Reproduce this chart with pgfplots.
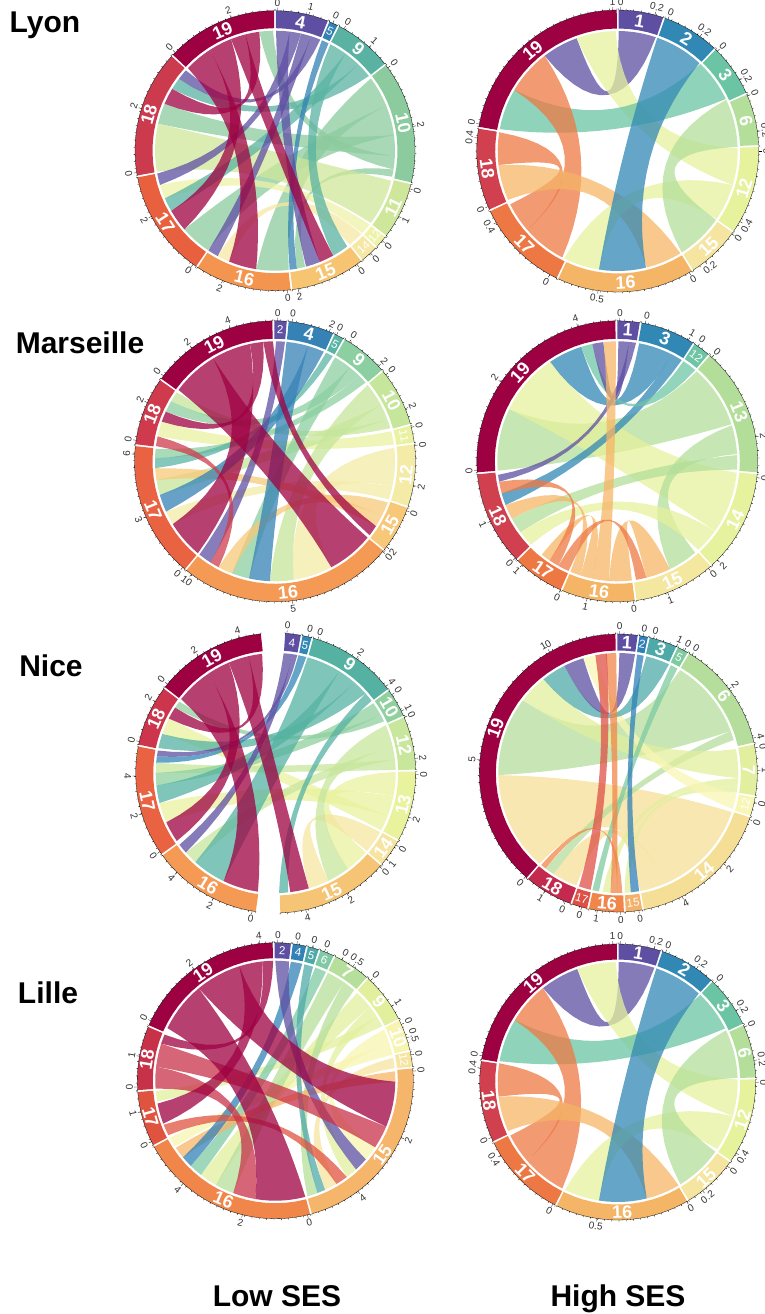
\documentclass[border=0pt]{standalone}
\usepackage{fontspec}
\setmainfont{Liberation Sans}
\usepackage{pgfplots}
\pgfplotsset{compat=1.18}
\newcount\ci \newcount\nn
\def\RC{120}\def\Ri{122.5}\def\Ro{140}
\def\appendarc#1#2#3#4{%
  \nn=\fpeval{max(1,ceil(abs((#3)-(#2))/#4))}\relax
  \ci=0
  \loop
    \edef\aT{\fpeval{(#2)+((#3)-(#2))*\the\ci/\the\nn}}%
    \xdef\pts{\pts(\fpeval{round((#1)*sind(\aT),2)},\fpeval{round((#1)*cosd(\aT),2)})}%
  \ifnum\ci<\nn\advance\ci by 1 \repeat}
\def\appendbez#1#2{%
  \edef\kK{\fpeval{.12*acosd(cosd((#1)-(#2)))/180}}%
  \ci=1
  \loop\ifnum\ci<14
    \edef\aT{\fpeval{\the\ci/14}}%
    \edef\wA{\fpeval{(1-\aT)^2+2*\aT*(1-\aT)*\kK}}%
    \edef\wB{\fpeval{\aT^2+2*\aT*(1-\aT)*\kK}}%
    \xdef\pts{\pts(\fpeval{round(\RC*(\wA*sind(#1)+\wB*sind(#2)),2)},\fpeval{round(\RC*(\wA*cosd(#1)+\wB*cosd(#2)),2)})}%
    \advance\ci by 1
  \repeat}
\newcommand\chord[5]{%
  \gdef\pts{}\appendarc{\RC}{#2}{#3}{4}\appendbez{#3}{#4}\appendarc{\RC}{#4}{#5}{4}\appendbez{#5}{#2}%
  \edef\tmp{\noexpand\addplot[fill=#1,fill opacity=.75,draw=none] coordinates {\pts};}\tmp}
\newcommand\sect[4]{%
  \gdef\pts{}\appendarc{\Ro}{#1+.4}{#2-.4}{5}\appendarc{\Ri}{#2-.4}{#1+.4}{5}%
  \edef\tmp{\noexpand\addplot[fill=#4,draw=none] coordinates {\pts};}\tmp
  \gdef\pts{}\edef\aA{\fpeval{#1+.3}}\edef\aB{\fpeval{#2-.3}}%
  \nn=\fpeval{max(1,round((\aB-\aA)/3))}\relax\ci=0
  \loop
    \edef\aT{\fpeval{\aA+(\aB-\aA)*\the\ci/\the\nn}}%
    \xdef\pts{\pts(\fpeval{round(\Ro*sind(\aT),2)},\fpeval{round(\Ro*cosd(\aT),2)})(\fpeval{round((\Ro+1.5)*sind(\aT),2)},\fpeval{round((\Ro+1.5)*cosd(\aT),2)})(\fpeval{round(\Ro*sind(\aT),2)},\fpeval{round(\Ro*cosd(\aT),2)})}%
  \ifnum\ci<\nn\advance\ci by 1 \repeat
  \edef\tmp{\noexpand\addplot[draw=black,line width=.3pt] coordinates {\pts};}\tmp
  \edef\aM{\fpeval{(#1+#2)/2}}%
  \edef\aR{\fpeval{\aM>90 && \aM<270 ? 180-\aM : -\aM}}%
  \edef\aS{\fpeval{(#2-#1)<9 ? 0 : 1}}%
  \edef\tmp{\noexpand\node[inner sep=0pt,text=white,rotate=\aR,\ifnum\aS=1 lbig\else lsmall\fi] at (axis cs:\fpeval{round((\Ro+\Ri)/2*sind(\aM),2)},\fpeval{round((\Ro+\Ri)/2*cosd(\aM),2)}) {#3};}\tmp}
\newcommand\tk[2]{%
  \edef\tmp{\noexpand\addplot[draw=black,line width=.3pt] coordinates {(\fpeval{round(\Ro*sind(#1),2)},\fpeval{round(\Ro*cosd(#1),2)})(\fpeval{round((\Ro+3)*sind(#1),2)},\fpeval{round((\Ro+3)*cosd(#1),2)})};}\tmp
  \edef\aR{\fpeval{#1>90 && #1<270 ? 180-#1 : -#1}}%
  \edef\tmp{\noexpand\node[inner sep=0pt,text=black!80,rotate=\aR,ltick] at (axis cs:\fpeval{round((\Ro+8)*sind(#1),2)},\fpeval{round((\Ro+8)*cosd(#1),2)}) {#2};}\tmp}
\tikzset{
  lbig/.style={font=\bfseries\fontsize{18}{18}\selectfont},
  lsmall/.style={font=\fontsize{11.5}{11.5}\selectfont},
  ltick/.style={font=\fontsize{10}{10}\selectfont},
  ttl/.style={font=\bfseries\fontsize{30}{30}\selectfont,inner sep=0pt}}
\pgfplotsset{panel/.style={hide axis,x=1pt,y=1pt,xmin=-160,xmax=160,ymin=-160,ymax=160,anchor=center,clip=false}}
\begin{document}
\begin{tikzpicture}
\useasboundingbox (0,0) rectangle (764pt,-1314pt);
\node[ttl] at (45pt,-25pt) {Lyon};
\node[ttl] at (80pt,-343pt) {Marseille};
\node[ttl] at (51pt,-666pt) {Nice};
\node[ttl] at (48pt,-993pt) {Lille};
\node[ttl] at (277pt,-1296pt) {Low SES};
\node[ttl] at (618pt,-1299pt) {High SES};
% ---------- Lyon low
\def\Ro{140}
\definecolor{s4}{HTML}{5E4FA2}\definecolor{s5}{HTML}{3380B3}\definecolor{s9}{HTML}{5AB3A2}\definecolor{s10}{HTML}{8CCB9E}\definecolor{s11}{HTML}{CFE79A}\definecolor{s12}{HTML}{EEF3A8}\definecolor{s14}{HTML}{F6E8A4}\definecolor{s15}{HTML}{F7C471}\definecolor{s16}{HTML}{F3954E}\definecolor{s17}{HTML}{E9603F}\definecolor{s18}{HTML}{CC3A4D}\definecolor{s19}{HTML}{9E0142}
\begin{axis}[panel,at={(275pt,-150.7pt)}]
\chord{s10}{53}{68}{173.5}{189}
\chord{s10}{68}{82.5}{214}{229}
\chord{s10}{82.5}{92.5}{283}{293}
\chord{s10}{92.5}{99}{352.5}{359}
\chord{s10}{99}{102.5}{165.5}{169.5}
\chord{s11}{104.5}{127}{260}{283}
\chord{s12}{128}{133.5}{246.6}{253.4}
\chord{s14}{134}{141.5}{202.5}{208.5}
\chord{s9}{27.5}{36}{143}{151}
\chord{s9}{36}{44}{239.8}{246.6}
\chord{s9}{44}{51.5}{301}{306.8}
\chord{s5}{23}{26.5}{169.5}{173}
\chord{s4}{0.5}{7}{158}{165}
\chord{s4}{7}{12.5}{253.4}{259}
\chord{s4}{12.5}{17.5}{208.5}{213.7}
\chord{s4}{17.5}{22.2}{306.8}{312}
\chord{s19}{313.5}{327}{189}{202.5}
\chord{s19}{327}{338.5}{229}{239.8}
\chord{s19}{338.5}{345.7}{151}{158}
\chord{s19}{345.7}{352.5}{293}{301}
\sect{0}{22.5}{4}{s4}\sect{22.5}{26.9}{5}{s5}\sect{26.9}{52}{9}{s9}\sect{52}{103.5}{10}{s10}\sect{103.5}{127.7}{11}{s11}\sect{127.7}{133.7}{12}{s12}\sect{133.7}{141.6}{14}{s14}\sect{141.6}{173.2}{15}{s15}\sect{173.2}{213.9}{16}{s16}\sect{213.9}{259.4}{17}{s17}\sect{259.4}{312.8}{18}{s18}\sect{312.8}{360}{19}{s19}
\tk{314.5}{0}\tk{341.6}{2}\tk{1}{0}\tk{14}{1}\tk{24.4}{0}\tk{29.5}{0}\tk{42.3}{1}\tk{53.7}{0}\tk{80}{2}\tk{105.8}{0}\tk{118}{1}\tk{130}{0}\tk{137}{0}\tk{144.2}{0}\tk{170.5}{2}\tk{175}{0}\tk{202}{2}\tk{215.8}{0}\tk{242}{2}\tk{261}{0}\tk{287.5}{2}
\end{axis}
% ---------- Lyon high
\def\Ro{141}
\definecolor{s1}{HTML}{5E4FA2}\definecolor{s2}{HTML}{3288B5}\definecolor{s3}{HTML}{6BC4A4}\definecolor{s6}{HTML}{B3DF9B}\definecolor{s12}{HTML}{E6F29C}\definecolor{s15}{HTML}{F6E5A0}\definecolor{s16}{HTML}{F5B566}\definecolor{s17}{HTML}{EE7843}\definecolor{s18}{HTML}{D0404F}\definecolor{s19}{HTML}{9E0142}
\begin{axis}[panel,at={(617.7pt,-151pt)}]
\chord{s1}{0.5}{18.5}{322.5}{340}
\chord{s12}{88.7}{106.5}{340}{359}
\chord{s3}{43.5}{64.3}{280.5}{300.5}
\chord{s17}{207.5}{228.8}{300.5}{322.5}
\chord{s17}{228.8}{243.6}{263.3}{279}
\chord{s16}{148.5}{166}{246}{263.3}
\chord{s12}{106.5}{124.5}{189}{206.5}
\chord{s6}{64.7}{88}{125}{147.7}
\chord{s2}{19.3}{42.9}{166.4}{189}
\sect{0}{19.2}{1}{s1}\sect{19.2}{43.6}{2}{s2}\sect{43.6}{66}{3}{s3}\sect{66}{88}{6}{s6}\sect{88}{125}{12}{s12}\sect{125}{148}{15}{s15}\sect{148}{205.3}{16}{s16}\sect{205.3}{245.1}{17}{s17}\sect{245.1}{279.5}{18}{s18}\sect{279.5}{360}{19}{s19}
\tk{1.2}{0}\tk{15.3}{0.2}\tk{358}{1}\tk{20.9}{0}\tk{35.7}{0.2}\tk{45}{0}\tk{59.8}{0.2}\tk{67}{0}\tk{82}{0.2}\tk{90}{0}\tk{120}{0.4}\tk{126}{0}\tk{141.7}{0.2}\tk{149.5}{0}\tk{188}{0.5}\tk{208.8}{0}\tk{239.5}{0.4}\tk{246.8}{0}\tk{275.3}{0.4}\tk{281}{0}
\end{axis}
% ---------- Marseille low
\def\Ro{140.5}
\definecolor{s2}{HTML}{5F51A3}\definecolor{s4}{HTML}{3682B5}\definecolor{s5}{HTML}{5BB5A5}\definecolor{s9}{HTML}{8CCFA0}\definecolor{s10}{HTML}{C6E69B}\definecolor{s11}{HTML}{E9F2A0}\definecolor{s12}{HTML}{F3EBA6}\definecolor{s15}{HTML}{F7C878}\definecolor{s16}{HTML}{F49A55}\definecolor{s17}{HTML}{E96343}\definecolor{s18}{HTML}{CF3B4D}\definecolor{s19}{HTML}{9E0142}
\begin{axis}[panel,at={(275pt,-461.3pt)}]
\chord{s12}{83.5}{102}{152}{171}
\chord{s12}{102}{108.5}{238.4}{245.2}
\chord{s11}{75.5}{82}{282}{289.3}
\chord{s10}{50.5}{62}{171}{182.4}
\chord{s10}{62}{69.5}{253.7}{261}
\chord{s10}{69.5}{74}{300}{305}
\chord{s9}{30}{38.5}{192.5}{201}
\chord{s9}{38.5}{44.5}{294.4}{300}
\chord{s9}{44.5}{49}{271.4}{276}
\chord{s5}{25.2}{28.8}{266.7}{271.4}
\chord{s15}{110}{117}{201}{208}
\chord{s15}{117}{122.7}{261}{266.7}
\chord{s4}{5.5}{16}{182.4}{192.5}
\chord{s4}{16}{24}{245.2}{253.7}
\chord{s2}{0.5}{4.8}{212.5}{219}
\chord{s18}{277.3}{282}{208}{212.5}
\chord{s19}{306.5}{329}{129.5}{152}
\chord{s19}{329}{348}{220}{238.4}
\chord{s19}{348}{354.4}{289.3}{294.4}
\chord{s19}{354.4}{359}{122.7}{128}
\sect{359.3}{365.2}{2}{s2}\sect{5.2}{24.8}{4}{s4}\sect{24.8}{29.5}{5}{s5}\sect{29.5}{49.9}{9}{s9}\sect{49.9}{74.9}{10}{s10}\sect{74.9}{82.7}{11}{s11}\sect{82.7}{109}{12}{s12}\sect{109}{129.2}{15}{s15}\sect{129.2}{219.5}{16}{s16}\sect{219.5}{276.6}{17}{s17}\sect{276.6}{305.6}{18}{s18}\sect{305.6}{359.3}{19}{s19}
\tk{307.5}{0}\tk{323.7}{2}\tk{341.4}{4}\tk{1}{0}\tk{7}{0}\tk{22.7}{2}\tk{26}{0}\tk{32}{0}\tk{47.4}{2}\tk{52}{0}\tk{68}{2}\tk{76}{0}\tk{83.5}{0}\tk{100}{2}\tk{110.6}{0}\tk{127.5}{2}\tk{130}{0}\tk{173}{5}\tk{216.5}{10}\tk{221}{0}\tk{246.7}{3}\tk{272.9}{6}\tk{278.6}{0}\tk{294.7}{2}
\end{axis}
% ---------- Marseille high
\def\Ro{140.5}
\definecolor{s1}{HTML}{5E4FA2}\definecolor{s3}{HTML}{3288B5}\definecolor{s12}{HTML}{6DC5A6}\definecolor{s13}{HTML}{B3DE9A}\definecolor{s14}{HTML}{E6F29D}\definecolor{s15}{HTML}{F4E79F}\definecolor{s16}{HTML}{F5B566}\definecolor{s17}{HTML}{EE7843}\definecolor{s18}{HTML}{D0404F}\definecolor{s19}{HTML}{9E0142}
\begin{axis}[panel,at={(617.3pt,-461.3pt)}]
\chord{s13}{41.5}{72}{265.5}{295.7}
\chord{s14}{95.5}{125.5}{295.7}{326}
\chord{s13}{72.5}{86.5}{139.6}{154}
\chord{s13}{87}{94}{233.8}{241.6}
\chord{s14}{125.5}{137.5}{226}{233.8}
\chord{s3}{10.5}{27}{326}{342.5}
\chord{s3}{27}{32.5}{248.6}{254.5}
\chord{s12}{33.5}{40.5}{342.5}{348}
\chord{s1}{0.5}{5.6}{348}{353.3}
\chord{s1}{5.6}{9}{260.2}{263.5}
\chord{s16}{154}{166}{173}{184}
\chord{s16}{184}{192}{353.5}{359.3}
\chord{s16}{198}{203}{241.6}{248.6}
\chord{s16}{192}{198}{214.3}{219}
\chord{s17}{166}{171}{204}{209.5}
\chord{s17}{209.5}{214.3}{254.5}{260.2}
\sect{359.6}{369.6}{1}{s1}\sect{9.6}{33}{3}{s3}\sect{33}{40.8}{12}{s12}\sect{40.8}{94.9}{13}{s13}\sect{94.9}{138}{14}{s14}\sect{138}{172.5}{15}{s15}\sect{172.5}{203.4}{16}{s16}\sect{203.4}{225.5}{17}{s17}\sect{225.5}{265.1}{18}{s18}\sect{265.1}{359.6}{19}{s19}
\tk{266.4}{0}\tk{304.3}{2}\tk{343.6}{4}\tk{1}{0}\tk{11.5}{0}\tk{30.4}{1}\tk{35}{0}\tk{42.3}{0}\tk{80}{2}\tk{96.7}{0}\tk{134.6}{2}\tk{139.6}{0}\tk{159}{1}\tk{173.5}{0}\tk{192.4}{1}\tk{203.9}{0}\tk{222.6}{1}\tk{226.5}{0}\tk{244.7}{1}
\end{axis}
% ---------- Nice low
\def\Ro{140}
\definecolor{s4}{HTML}{5E4FA2}\definecolor{s5}{HTML}{3288B5}\definecolor{s9}{HTML}{55B2A2}\definecolor{s10}{HTML}{8FD09E}\definecolor{s12}{HTML}{C8E69C}\definecolor{s13}{HTML}{E9F29D}\definecolor{s14}{HTML}{F5E5A0}\definecolor{s15}{HTML}{F6C475}\definecolor{s16}{HTML}{F49A55}\definecolor{s17}{HTML}{E96343}\definecolor{s18}{HTML}{CC354C}\definecolor{s19}{HTML}{9E0142}
\begin{axis}[panel,at={(275.7pt,-773pt)}]
\chord{s13}{89.5}{101}{131.5}{143}
\chord{s13}{101}{111}{245.7}{255.5}
\chord{s13}{111}{118.5}{289.3}{297}
\chord{s14}{119.5}{130.5}{154}{164}
\chord{s12}{66.5}{77.5}{143}{154}
\chord{s12}{77.5}{83.5}{222}{228.5}
\chord{s12}{83.5}{88.5}{270}{274.9}
\chord{s10}{54.5}{61}{264}{270}
\chord{s10}{61}{64.5}{303}{306.5}
\chord{s9}{15.5}{32}{205.7}{222}
\chord{s9}{32}{41}{255.5}{264}
\chord{s9}{41}{48.5}{282}{289}
\chord{s9}{48.5}{53}{174}{178.4}
\chord{s5}{11}{14.8}{274.9}{278}
\chord{s4}{3.8}{8}{228.5}{233.3}
\chord{s4}{8}{10.4}{278}{280.8}
\chord{s19}{308}{326}{188.5}{205.7}
\chord{s19}{326}{337}{235.5}{245.7}
\chord{s19}{337}{347}{164}{173}
\chord{s19}{347}{353.5}{297}{303}
\sect{3.5}{10.7}{4}{s4}\sect{10.7}{15.2}{5}{s5}\sect{15.2}{53.6}{9}{s9}\sect{53.6}{66.2}{10}{s10}\sect{66.2}{89}{12}{s12}\sect{89}{118.9}{13}{s13}\sect{118.9}{131}{14}{s14}\sect{131}{178.5}{15}{s15}\sect{187.8}{234.3}{16}{s16}\sect{234.3}{281.3}{17}{s17}\sect{281.3}{307.4}{18}{s18}\sect{307.4}{354.3}{19}{s19}
\tk{309.4}{0}\tk{326.5}{2}\tk{345}{4}\tk{4.6}{0}\tk{13.5}{0}\tk{17.5}{0}\tk{35.2}{2}\tk{51.8}{4}\tk{56}{0}\tk{63.7}{1}\tk{66.6}{0}\tk{84}{2}\tk{90.7}{0}\tk{108.4}{2}\tk{120.9}{0}\tk{128}{1}\tk{132}{0}\tk{149.4}{2}\tk{167.6}{4}\tk{189.7}{0}\tk{206.5}{2}\tk{224.8}{4}\tk{235.8}{0}\tk{253}{2}\tk{268.8}{4}\tk{283}{0}\tk{300.6}{2}
\end{axis}
% ---------- Nice high
\def\Ro{139}
\definecolor{s1}{HTML}{5E4FA2}\definecolor{s2}{HTML}{2F7FB8}\definecolor{s3}{HTML}{4FA9A8}\definecolor{s5}{HTML}{7ECBA0}\definecolor{s6}{HTML}{B5DE9C}\definecolor{s7}{HTML}{E2EF9E}\definecolor{s12}{HTML}{F8F6B4}\definecolor{s14}{HTML}{F5DF96}\definecolor{s15}{HTML}{F4B16A}\definecolor{s16}{HTML}{F0864A}\definecolor{s17}{HTML}{DE5045}\definecolor{s18}{HTML}{C42A4E}\definecolor{s19}{HTML}{9E0142}
\begin{axis}[panel,at={(618.3pt,-773pt)}]
\chord{s14}{109}{157}{221}{269}
\chord{s14}{157}{169.5}{200.5}{212.7}
\chord{s6}{31}{69.5}{269}{307.3}
\chord{s6}{69.5}{74}{212.7}{217.3}
\chord{s7}{78.5}{92.5}{307.5}{321.4}
\chord{s7}{92.5}{96.5}{183.7}{187.6}
\chord{s7}{96.5}{99.5}{174}{177}
\chord{s12}{100}{107.5}{343}{349}
\chord{s5}{26}{29.5}{189.3}{192.5}
\chord{s3}{13.5}{25}{321.4}{333.3}
\chord{s2}{9}{12.2}{170}{174}
\chord{s1}{0.5}{8}{333.3}{343}
\chord{s16}{180.5}{183.7}{354}{359}
\chord{s16}{178.1}{180.5}{217.3}{220}
\chord{s17}{193.3}{199.1}{349}{354.5}
\sect{359.2}{368.4}{1}{s1}\sect{8.4}{12.7}{2}{s2}\sect{12.7}{25}{3}{s3}\sect{25}{30.3}{5}{s5}\sect{30.3}{77.7}{6}{s6}\sect{77.7}{99.7}{7}{s7}\sect{99.7}{108.3}{12}{s12}\sect{108.3}{169.7}{14}{s14}\sect{169.7}{177.3}{15}{s15}\sect{177.3}{192.6}{16}{s16}\sect{192.6}{199.8}{17}{s17}\sect{199.8}{220.8}{18}{s18}\sect{220.8}{359.2}{19}{s19}
\tk{221.8}{0}\tk{275.4}{5}\tk{330.4}{10}\tk{0.5}{0}\tk{10.3}{0}\tk{14.7}{0}\tk{24.7}{1}\tk{28.4}{0}\tk{32}{0}\tk{52.8}{2}\tk{75.5}{4}\tk{79.6}{0}\tk{89}{1}\tk{102.3}{0}\tk{109.6}{0}\tk{130.7}{2}\tk{152.7}{4}\tk{171.5}{0}\tk{179}{0}\tk{188.7}{1}\tk{195.3}{0}\tk{202.4}{0}\tk{211.9}{1}
\end{axis}
% ---------- Lille low
\def\Ro{138}
\definecolor{s2}{HTML}{5E4FA2}\definecolor{s4}{HTML}{3282B6}\definecolor{s5}{HTML}{4FA9A8}\definecolor{s6}{HTML}{7FCAA4}\definecolor{s7}{HTML}{B5DF9A}\definecolor{s9}{HTML}{E2EF9C}\definecolor{s10}{HTML}{F7F4B0}\definecolor{s12}{HTML}{F7E4A0}\definecolor{s15}{HTML}{F5B56A}\definecolor{s16}{HTML}{F0864A}\definecolor{s17}{HTML}{E0533F}\definecolor{s18}{HTML}{C83249}\definecolor{s19}{HTML}{9E0142}
\begin{axis}[panel,at={(275.3pt,-1080.7pt)}]
\chord{s10}{64.8}{72}{123.7}{131}
\chord{s10}{72}{77.5}{236.7}{241.5}
\chord{s9}{43}{52}{209.6}{218.3}
\chord{s9}{52}{58}{137.7}{143.4}
\chord{s9}{58}{63}{260}{265}
\chord{s7}{26}{35}{200.5}{209.6}
\chord{s7}{35}{41}{159.4}{164.5}
\chord{s6}{19.5}{25}{218.3}{224.8}
\chord{s12}{79}{84}{149.3}{155.5}
\chord{s15}{85.5}{90.5}{230.3}{236}
\chord{s5}{14}{18.3}{155.5}{159.4}
\chord{s4}{7.5}{13}{224.8}{230.3}
\chord{s2}{0}{6.5}{131}{137.7}
\chord{s17}{143.4}{149.3}{243}{248.5}
\chord{s18}{112.5}{123.7}{276.7}{288}
\chord{s18}{189.6}{200.5}{266.2}{276.7}
\chord{s19}{296}{320.3}{165.5}{189.6}
\chord{s19}{320.3}{342.5}{90.5}{112.5}
\chord{s19}{342.5}{353.8}{249}{259}
\chord{s19}{353.8}{359}{288}{292.6}
\sect{359.3}{366.9}{2}{s2}\sect{6.9}{13.3}{4}{s4}\sect{13.3}{18.7}{5}{s5}\sect{18.7}{25.4}{6}{s6}\sect{25.4}{41.9}{7}{s7}\sect{41.9}{63.7}{9}{s9}\sect{63.7}{77.5}{10}{s10}\sect{77.5}{84.5}{12}{s12}\sect{84.5}{165}{15}{s15}\sect{165}{241.8}{16}{s16}\sect{241.8}{265.7}{17}{s17}\sect{265.7}{293.3}{18}{s18}\sect{293.3}{359.3}{19}{s19}
\tk{295.7}{0}\tk{323.9}{2}\tk{353.5}{4}\tk{1}{0}\tk{9}{0}\tk{15.6}{0}\tk{20.9}{0}\tk{28.8}{0}\tk{34.2}{0.5}\tk{43.6}{0}\tk{57.4}{1}\tk{65.9}{0}\tk{71.9}{0.5}\tk{79.2}{0}\tk{86}{0}\tk{114.3}{2}\tk{143.2}{4}\tk{166.5}{0}\tk{193.8}{2}\tk{221.9}{4}\tk{243.8}{0}\tk{257}{1}\tk{267.4}{0}\tk{280.2}{1}
\end{axis}
% ---------- Lille high
\def\Ro{138}
\definecolor{s1}{HTML}{5E4FA2}\definecolor{s2}{HTML}{3288B5}\definecolor{s3}{HTML}{6BC4A4}\definecolor{s6}{HTML}{B3DF9B}\definecolor{s12}{HTML}{E6F29C}\definecolor{s15}{HTML}{F6E5A0}\definecolor{s16}{HTML}{F5B566}\definecolor{s17}{HTML}{EE7843}\definecolor{s18}{HTML}{D0404F}\definecolor{s19}{HTML}{9E0142}
\begin{axis}[panel,at={(617.7pt,-1082pt)}]
\chord{s1}{0.5}{17.8}{321.5}{340.3}
\chord{s12}{88.8}{106.5}{340.3}{359}
\chord{s3}{43.5}{63.5}{280}{301}
\chord{s17}{207.5}{229}{301}{321.5}
\chord{s17}{229}{243.5}{263}{279}
\chord{s16}{149.5}{166}{246}{263}
\chord{s12}{106.5}{124}{189}{206}
\chord{s6}{64.5}{88}{125.5}{148.5}
\chord{s2}{18.8}{42.5}{166}{189}
\sect{0}{18.5}{1}{s1}\sect{18.5}{43}{2}{s2}\sect{43}{65.4}{3}{s3}\sect{65.4}{88.5}{6}{s6}\sect{88.5}{125.2}{12}{s12}\sect{125.2}{149.4}{15}{s15}\sect{149.4}{206.6}{16}{s16}\sect{206.6}{244.2}{17}{s17}\sect{244.2}{279.1}{18}{s18}\sect{279.1}{360}{19}{s19}
\tk{1}{0}\tk{15.3}{0.2}\tk{358}{1}\tk{20.3}{0}\tk{34.8}{0.2}\tk{44.5}{0}\tk{58.9}{0.2}\tk{66.5}{0}\tk{81}{0.2}\tk{90.3}{0}\tk{121}{0.4}\tk{127.5}{0}\tk{142}{0.2}\tk{150}{0}\tk{188.6}{0.5}\tk{208}{0}\tk{237.9}{0.4}\tk{246.3}{0}\tk{275.8}{0.4}\tk{281}{0}
\end{axis}
\end{tikzpicture}
\end{document}
